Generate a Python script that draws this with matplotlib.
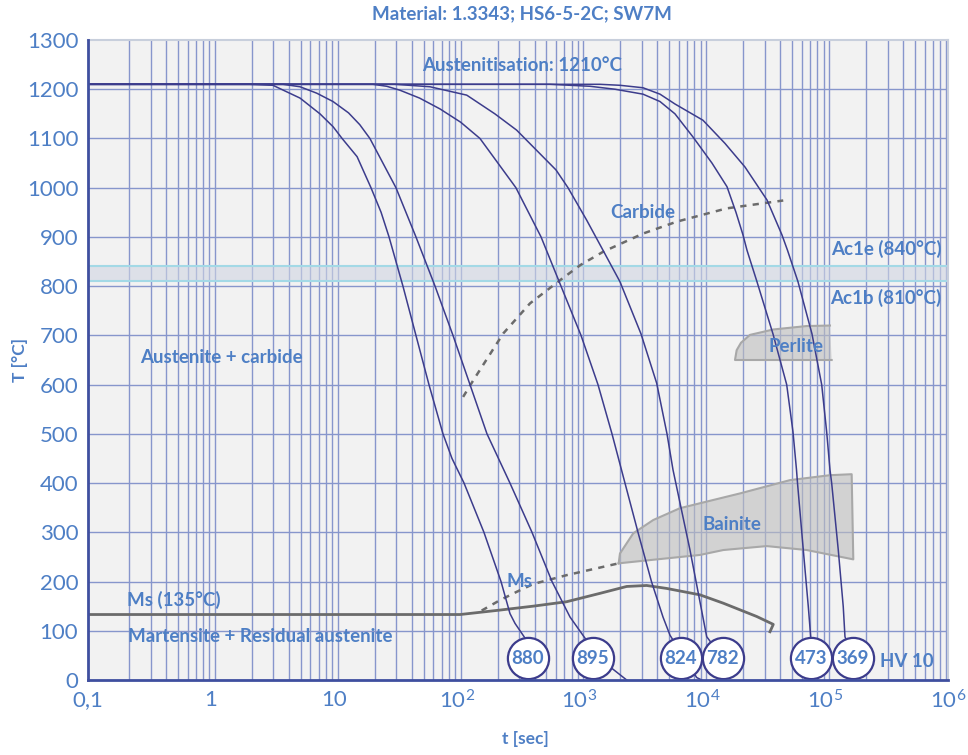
import numpy as np
import matplotlib.pyplot as plt
from matplotlib.ticker import NullLocator

plt.rcParams['font.family'] = ['Lato', 'DejaVu Sans']
plt.rcParams['mathtext.fontset'] = 'custom'
plt.rcParams['mathtext.rm'] = 'Lato'

BLUE = '#4e7fc5'
NAVY = '#3c3c8c'
GREY = '#6b6b6b'
GRID = '#8796cc'

# cooling curves, t [sec] / T [°C]
t_880 = [0.1, 2.08, 3.2, 5.32, 7.73, 9.87, 11.7, 15.5, 20.1, 24.3, 28.2, 36.6, 46.7, 59.6, 77.5, 91.8, 115, 167, 230, 272, 299, 361, 378]
T_880 = [1210, 1210, 1208, 1182, 1150, 1124, 1100, 1063, 1000, 950, 900, 800, 700, 600, 500, 450, 400, 300, 200, 135, 115, 85, 44]

t_895 = [0.1, 3.87, 5.32, 7.27, 9.87, 13.2, 16.3, 19.7, 32.1, 46.7, 66.8, 93.5, 128.6, 176.8, 272, 411, 598, 838, 1110, 1830, 2424]
T_895 = [1210, 1210, 1205, 1192, 1175, 1152, 1128, 1100, 1000, 900, 800, 700, 600, 500, 400, 300, 200, 128, 85, 24, 0]

t_824 = [0.1, 20.9, 27, 34.6, 50, 73.3, 108, 155, 304, 487, 708, 1030, 1416, 1841, 2348, 2997, 3858, 4787, 5459, 9003, 9888]
T_824 = [1210, 1210, 1206, 1198, 1182, 1160, 1133, 1100, 1000, 900, 800, 700, 600, 500, 400, 300, 200, 128, 91, 5, 0]

t_782 = [0.1, 31.5, 60.8, 121, 205, 308, 645, 807, 1146, 1555, 2138, 3171, 4253, 5161, 5775, 7941, 10860, 14690]
T_782 = [1210, 1210, 1205, 1188, 1150, 1117, 1036, 1000, 934, 873, 809, 703, 603, 500, 427, 264, 88, 44]

t_473 = [0.1, 576, 1219, 1948, 3291, 4527, 5994, 8400, 11990, 15890, 18800, 21450, 23110, 27870, 37620, 48640, 54730, 58460, 59570, 66400, 72930, 76270, 76700]
T_473 = [1210, 1210, 1206, 1200, 1190, 1175, 1150, 1103, 1050, 1002, 950, 904, 873, 809, 703, 600, 504, 427, 400, 264, 149, 88, 44]

t_369 = [0.1, 1470, 2138, 3291, 4527, 5994, 10130, 15300, 22260, 33630, 44530, 49370, 60120, 78150, 93730, 102900, 109500, 113000, 127900, 140400, 145000, 168500]
T_369 = [1210, 1210, 1208, 1203, 1190, 1170, 1137, 1090, 1042, 975, 904, 873, 809, 703, 600, 504, 427, 400, 264, 149, 88, 44]

curves = [(t_880, T_880), (t_895, T_895), (t_824, T_824), (t_782, T_782), (t_473, T_473), (t_369, T_369)]

# hardness circles
hv_t = [378, 1285, 6683, 14690, 76700, 168600]
hv_labels = ['880', '895', '824', '782', '473', '369']
hv_T = 44

# Ms line
ms_t = [0.1, 107, 225, 421, 787, 1469, 2424, 3524, 5130, 9570, 14830, 27730, 37840, 35560]
ms_T = [133, 133, 142, 150, 159, 176, 190, 192, 186, 173, 156, 129, 113, 98]
ms_dash_t = [160, 225, 308, 421, 787, 2087]
ms_dash_T = [141, 162, 179, 195, 213, 237]

# carbide start
carb_t = [113, 137, 240, 396, 695, 1020, 1563, 3311, 6194, 15800, 45600]
carb_T = [575, 609, 704, 765, 812, 843, 870, 907, 931, 958, 974]

# bainite field
bain_t = [2087, 2138, 2742, 3991, 6585, 9570, 20280, 51760, 109400, 164400, 169500, 70790, 33420, 14830, 9570, 2087]
bain_T = [237, 257, 298, 325, 349, 359, 379, 406, 416, 418, 245, 264, 272, 264, 254, 237]

# perlite field
perl_t = [113000, 18460, 19050, 20650, 24430, 37840, 70790, 109500]
perl_T = [650, 650, 670, 685, 701, 712, 719, 720]

ac1b, ac1e = 810, 840

fig = plt.figure(figsize=(9.68, 7.55), dpi=100)
ax = fig.add_axes([88 / 968, 75 / 755, 860 / 968, 640 / 755])
ax.set_facecolor('#f2f2f2')
ax.set_xscale('log')
ax.set_xlim(0.1, 1e6)
ax.set_ylim(0, 1300)

# grid of the original sits a little right of the tick labels
shift = 1.078
gx = [m * 10.0 ** d * shift for d in range(-1, 6) for m in range(1, 10)]
gx = [x for x in gx if 0.11 < x < 1e6]
ax.vlines(gx, 0, 1300, colors=GRID, lw=1.0, zorder=1)
ax.hlines(range(100, 1300, 100), 0.1, 1e6, colors=GRID, lw=1.0, zorder=1)

# Ac1 band
ax.axhspan(ac1b, ac1e, color='#d0d5e2', alpha=0.6, lw=0, zorder=2)
ax.axhline(ac1b, color='#a3d9e6', lw=1.5, zorder=2)
ax.axhline(ac1e, color='#a3d9e6', lw=1.5, zorder=2)

# fields
ax.fill(bain_t, bain_T, color='#bebebe', alpha=0.6, lw=0, zorder=2)
ax.plot(bain_t, bain_T, color='#a8a8a8', lw=1.5, zorder=2)
ax.fill(perl_t, perl_T, color='#bebebe', alpha=0.6, lw=0, zorder=2)
ax.plot(perl_t, perl_T, color='#a8a8a8', lw=1.5, zorder=2)

for t, T in curves:
    ax.plot(t, T, color=NAVY, lw=1.1, zorder=4)

ax.plot(ms_t, ms_T, color=GREY, lw=2, zorder=3)
ax.plot(ms_dash_t, ms_dash_T, color=GREY, lw=1.8, ls=(0, (2.5, 2.5)), zorder=3)
ax.plot(carb_t, carb_T, color=GREY, lw=1.8, ls=(0, (2.5, 2.5)), zorder=3)

ax.scatter(hv_t, [hv_T] * len(hv_t), s=880, facecolor='white', edgecolor=NAVY, lw=1.6, zorder=6, clip_on=False)
for t, lab in zip(hv_t, hv_labels):
    ax.text(t, hv_T, lab, ha='center', va='center', fontsize=13.5, fontweight='bold', color=BLUE, zorder=7)

txt = dict(color=BLUE, fontweight='bold', fontsize=13.5, zorder=8)
ax.text(341, 1248, 'Austenitisation: 1210°C', ha='center', va='center', **txt)
ax.text(1774, 950, 'Carbide', ha='left', va='center', **txt)
ax.text(889000, 875, 'Ac1e (840°C)', ha='right', va='center', **txt)
ax.text(889000, 777, 'Ac1b (810°C)', ha='right', va='center', **txt)
ax.text(57900, 678, 'Perlite', ha='center', va='center', **txt)
ax.text(0.265, 656, 'Austenite + carbide', ha='left', va='center', **txt)
ax.text(17460, 315, 'Bainite', ha='center', va='center', **txt)
ax.text(256, 200, 'Ms', ha='left', va='center', **txt)
ax.text(0.2065, 162, 'Ms (135°C)', ha='left', va='center', **txt)
ax.text(0.213, 88, 'Martensite + Residual austenite', ha='left', va='center', **txt)
ax.text(279000, 37, 'HV 10', ha='left', va='center', **txt)

ax.set_xticks([0.1, 1, 10, 1e2, 1e3, 1e4, 1e5, 1e6])
ax.set_xticklabels(['0,1', '1', '10', r'$\mathregular{10^2}$', r'$\mathregular{10^3}$',
                    r'$\mathregular{10^4}$', r'$\mathregular{10^5}$', r'$\mathregular{10^6}$'])
ax.xaxis.set_minor_locator(NullLocator())
ax.set_yticks(range(0, 1400, 100))
ax.tick_params(axis='both', length=0, labelsize=16, labelcolor=BLUE)
ax.tick_params(axis='x', pad=7)
ax.tick_params(axis='y', pad=7)

for s in ['left', 'bottom']:
    ax.spines[s].set_color('#3f4f9f')
    ax.spines[s].set_linewidth(2)
    ax.spines[s].set_zorder(9)
for s in ['top', 'right']:
    ax.spines[s].set_color('#c8cfdc')
    ax.spines[s].set_linewidth(1.5)

fig.text(522 / 968, 1 - 14 / 755, 'Material: 1.3343; HS6-5-2C; SW7M', ha='center', va='center',
         color=BLUE, fontweight='bold', fontsize=13.5)
fig.text(20 / 968, 1 - 360 / 755, 'T [°C]', rotation=90, ha='center', va='center',
         color=BLUE, fontweight='bold', fontsize=12.5)
fig.text(525 / 968, 1 - 739 / 755, 't [sec]', ha='center', va='center',
         color=BLUE, fontweight='bold', fontsize=12.5)

fig.savefig('out.png', dpi=100, facecolor='white')
